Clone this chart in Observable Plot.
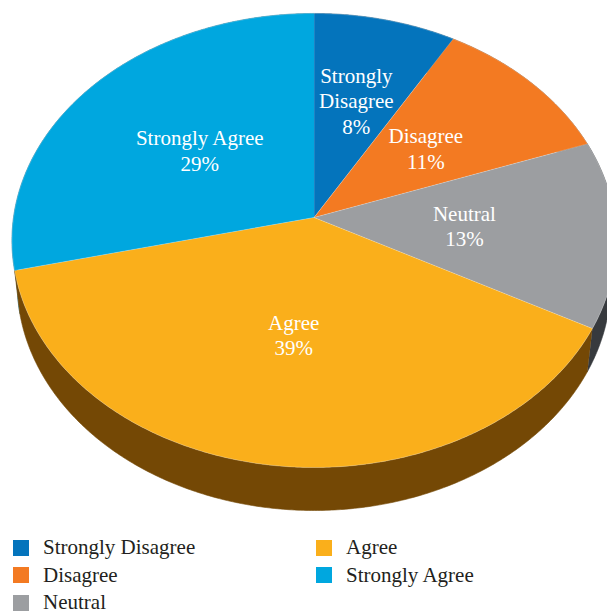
<!DOCTYPE html>
<html>
<head>
<meta charset="utf-8">
<script src="https://cdn.jsdelivr.net/npm/d3@7"></script>
<script src="https://cdn.jsdelivr.net/npm/@observablehq/plot@0.6"></script>
<style>
html, body { margin: 0; padding: 0; background: #fff; overflow: hidden; width: 607px; height: 614px; }
#chart svg { display: block; overflow: hidden; }
#legend { position: relative; height: 80px; font-family: "Liberation Serif", "Times New Roman", serif; font-size: 21px; color: #231F20; }
.item { position: absolute; height: 27.5px; display: flex; align-items: center; white-space: nowrap; }
.sw { width: 16px; height: 16px; margin-right: 14px; flex: none; }
</style>
</head>
<body>
<div id="chart"></div>
<div id="legend"></div>
<script>
// ---- data ----
const categories = ["Strongly Disagree", "Disagree", "Neutral", "Agree", "Strongly Agree"];
const values = [8.4, 11.1, 13.3, 38.5, 28.7];          // percent
const labelText = ["Strongly\nDisagree", "Disagree", "Neutral", "Agree", "Strongly Agree"];

// ---- style ----
const colors = ["#0474BC", "#F37A22", "#9C9EA1", "#FAAF1B", "#00A7DF"];
const sideColors = ["#034a78", "#8a4410", "#373A3E", "#744805", "#006a8e"];
const W = 607, H = 534;
const tilt = 0.1013;   // perspective strength
const depth = 0.1945;  // side thickness (in y-units)
const shrink = 0.0174; // bottom face recedes
const labelR = 0.5;

const arcs = d3.pie().sort(null).value(d => d)(values);
const total = d3.sum(values);

function proj(r, a, h) {
  const u = r * Math.sin(a), v = -r * Math.cos(a);
  const w = 1 - tilt * v + shrink * h;
  return {x: u / w, y: (v + depth * h) / w};
}
function arcPts(a0, a1, h) {
  const n = Math.max(2, Math.ceil(Math.abs(a1 - a0) / (Math.PI / 360)));
  const pts = [];
  for (let j = 0; j <= n; j++) pts.push(proj(1, a0 + (a1 - a0) * j / n, h));
  return pts;
}

const order = d3.range(arcs.length).sort((i, j) =>
  -Math.cos((arcs[i].startAngle + arcs[i].endAngle) / 2) - -Math.cos((arcs[j].startAngle + arcs[j].endAngle) / 2));

const sideMarks = order.map(i => {
  const a = arcs[i];
  const pts = arcPts(a.startAngle, a.endAngle, 0).concat(arcPts(a.endAngle, a.startAngle, 1));
  return Plot.line(pts, {x: "x", y: "y", fill: sideColors[i], stroke: sideColors[i], strokeWidth: 0.6});
});

const topMarks = arcs.map((a, i) => {
  const pts = [proj(0, 0, 0)].concat(arcPts(a.startAngle, a.endAngle, 0));
  return Plot.line(pts, {x: "x", y: "y", fill: colors[i], stroke: "#ffffff", strokeOpacity: 0.35, strokeWidth: 0.7, strokeLinejoin: "round"});
});

// narrow slices push their label outward
const labels = arcs.map((a, i) => {
  const frac = values[i] / total;
  const r = labelR + Math.max(0, 0.1 - frac) * 4.4;
  const p = proj(r, (a.startAngle + a.endAngle) / 2, 0);
  return {x: p.x, y: p.y, text: labelText[i] + "\n" + Math.round(values[i]) + "%"};
});

const chart = Plot.plot({
  width: W,
  height: H,
  margin: 0,
  x: {domain: [-1, 1], range: [313.5 - 300.5, 313.5 + 300.5], axis: null},
  y: {domain: [-1, 1], range: [217 - 224.7, 217 + 224.7], axis: null},
  style: {background: "#fff", overflow: "hidden"},
  marks: [
    ...sideMarks,
    ...topMarks,
    Plot.text(labels, {x: "x", y: "y", text: "text", fill: "#fff", fontSize: 21, lineHeight: 1.2,
      fontFamily: "Liberation Serif, Times New Roman, serif"})
  ]
});
document.getElementById("chart").appendChild(chart);

// ---- legend ----
const legend = document.getElementById("legend");
categories.forEach((c, i) => {
  const col = i < 3 ? 0 : 1, row = i < 3 ? i : i - 3;
  const item = document.createElement("div");
  item.className = "item";
  item.style.left = (col === 0 ? 13 : 316) + "px";
  item.style.top = (row * 27.5) + "px";
  const sw = document.createElement("span");
  sw.className = "sw";
  sw.style.background = colors[i];
  const t = document.createElement("span");
  t.textContent = c;
  item.appendChild(sw);
  item.appendChild(t);
  legend.appendChild(item);
});
</script>
</body>
</html>
